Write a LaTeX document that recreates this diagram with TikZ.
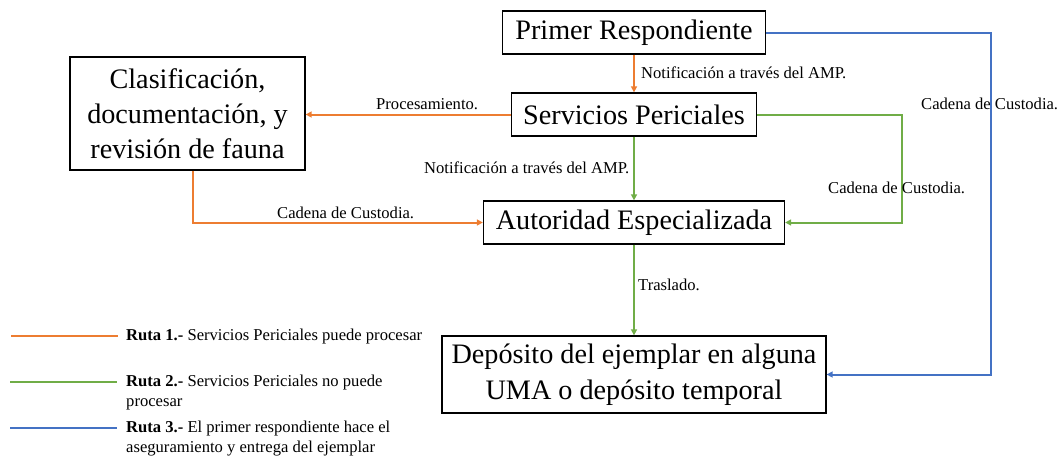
\documentclass[tikz,border=0pt]{standalone}
\usepackage{fontspec}
\setmainfont{Liberation Serif}
\usetikzlibrary{arrows.meta}
\definecolor{rorange}{HTML}{ED7D31}
\definecolor{rgreen}{HTML}{70AD47}
\definecolor{rblue}{HTML}{4472C4}
\tikzset{
  box/.style={draw=black, line width=1.3pt, fill=white, inner sep=0pt, align=center,
    font=\fontsize{28.2}{35}\selectfont},
  conn/.style={line width=2pt, -{Triangle[length=6pt,width=6pt]}},
  lbl/.style={font=\fontsize{16.6}{19}\selectfont, inner sep=0pt, anchor=west},
  leg/.style={font=\fontsize{16.6}{20}\selectfont, inner sep=0pt, anchor=north west, align=left},
  legline/.style={line width=2pt}
}
\begin{document}
\begin{tikzpicture}[x=1pt,y=-1pt]
\useasboundingbox (0,0) rectangle (1060,458);
% boxes
\node[box, minimum width=263pt, minimum height=43pt] (pr) at (634,32.5) {Primer Respondiente};
\node[box, minimum width=245pt, minimum height=43pt] (sp) at (634,114.5) {Servicios Periciales};
\node[box, minimum width=235pt, minimum height=113pt] (cl) at (187.5,113.5) {Clasificación,\\documentación, y\\revisión de fauna};
\node[box, minimum width=301pt, minimum height=43pt] (ae) at (634,222.5) {Autoridad Especializada};
\node[box, minimum width=384pt, minimum height=77pt, font=\fontsize{28.2}{36}\selectfont] (dp) at (634,374.5) {Depósito del ejemplar en alguna\\UMA o depósito temporal};
% helper coordinates
\coordinate (g1) at (902,222);
\coordinate (b1) at (991,374);
\coordinate (o1) at (193,222);
% connectors
\draw[conn, rorange] (pr.south) -- (sp.north);
\draw[conn, rorange] (sp.west) -- (sp.west -| cl.east);
\draw[conn, rorange] (cl.south -| o1) |- (ae.west);
\draw[conn, rgreen] (sp.south) -- (ae.north);
\draw[conn, rgreen] (sp.east) -| (g1) |- (ae.east);
\draw[conn, rgreen] (ae.south) -- (dp.north);
\draw[conn, rblue] (pr.east) -| (b1) |- (dp.east);
% labels
\node[lbl] (l1) at (641,73) {Notificación a través del AMP.};
\node[lbl] (l2) at (376,104) {Procesamiento.};
\node[lbl] (l3) at (277,213) {Cadena de Custodia.};
\node[lbl] (l4) at (424,168) {Notificación a través del AMP.};
\node[lbl] (l5) at (828,188) {Cadena de Custodia.};
\node[lbl] (l6) at (921,104) {Cadena de Custodia.};
\node[lbl] (l7) at (638,285) {Traslado.};
% legend
\coordinate (la1) at (11,336); \coordinate (lb1) at (118,336);
\coordinate (la2) at (10,382); \coordinate (lb2) at (117,382);
\coordinate (la3) at (10,428); \coordinate (lb3) at (117,428);
\draw[legline, rorange] (la1) -- (lb1);
\draw[legline, rgreen] (la2) -- (lb2);
\draw[legline, rblue] (la3) -- (lb3);
\node[leg] (t1) at (126,329) {\textbf{Ruta 1.-} Servicios Periciales puede procesar};
\node[leg] (t2) at (126,375) {\textbf{Ruta 2.-} Servicios Periciales no puede\\procesar};
\node[leg] (t3) at (126,421) {\textbf{Ruta 3.-} El primer respondiente hace el\\aseguramiento y entrega del ejemplar};
\end{tikzpicture}
\end{document}
